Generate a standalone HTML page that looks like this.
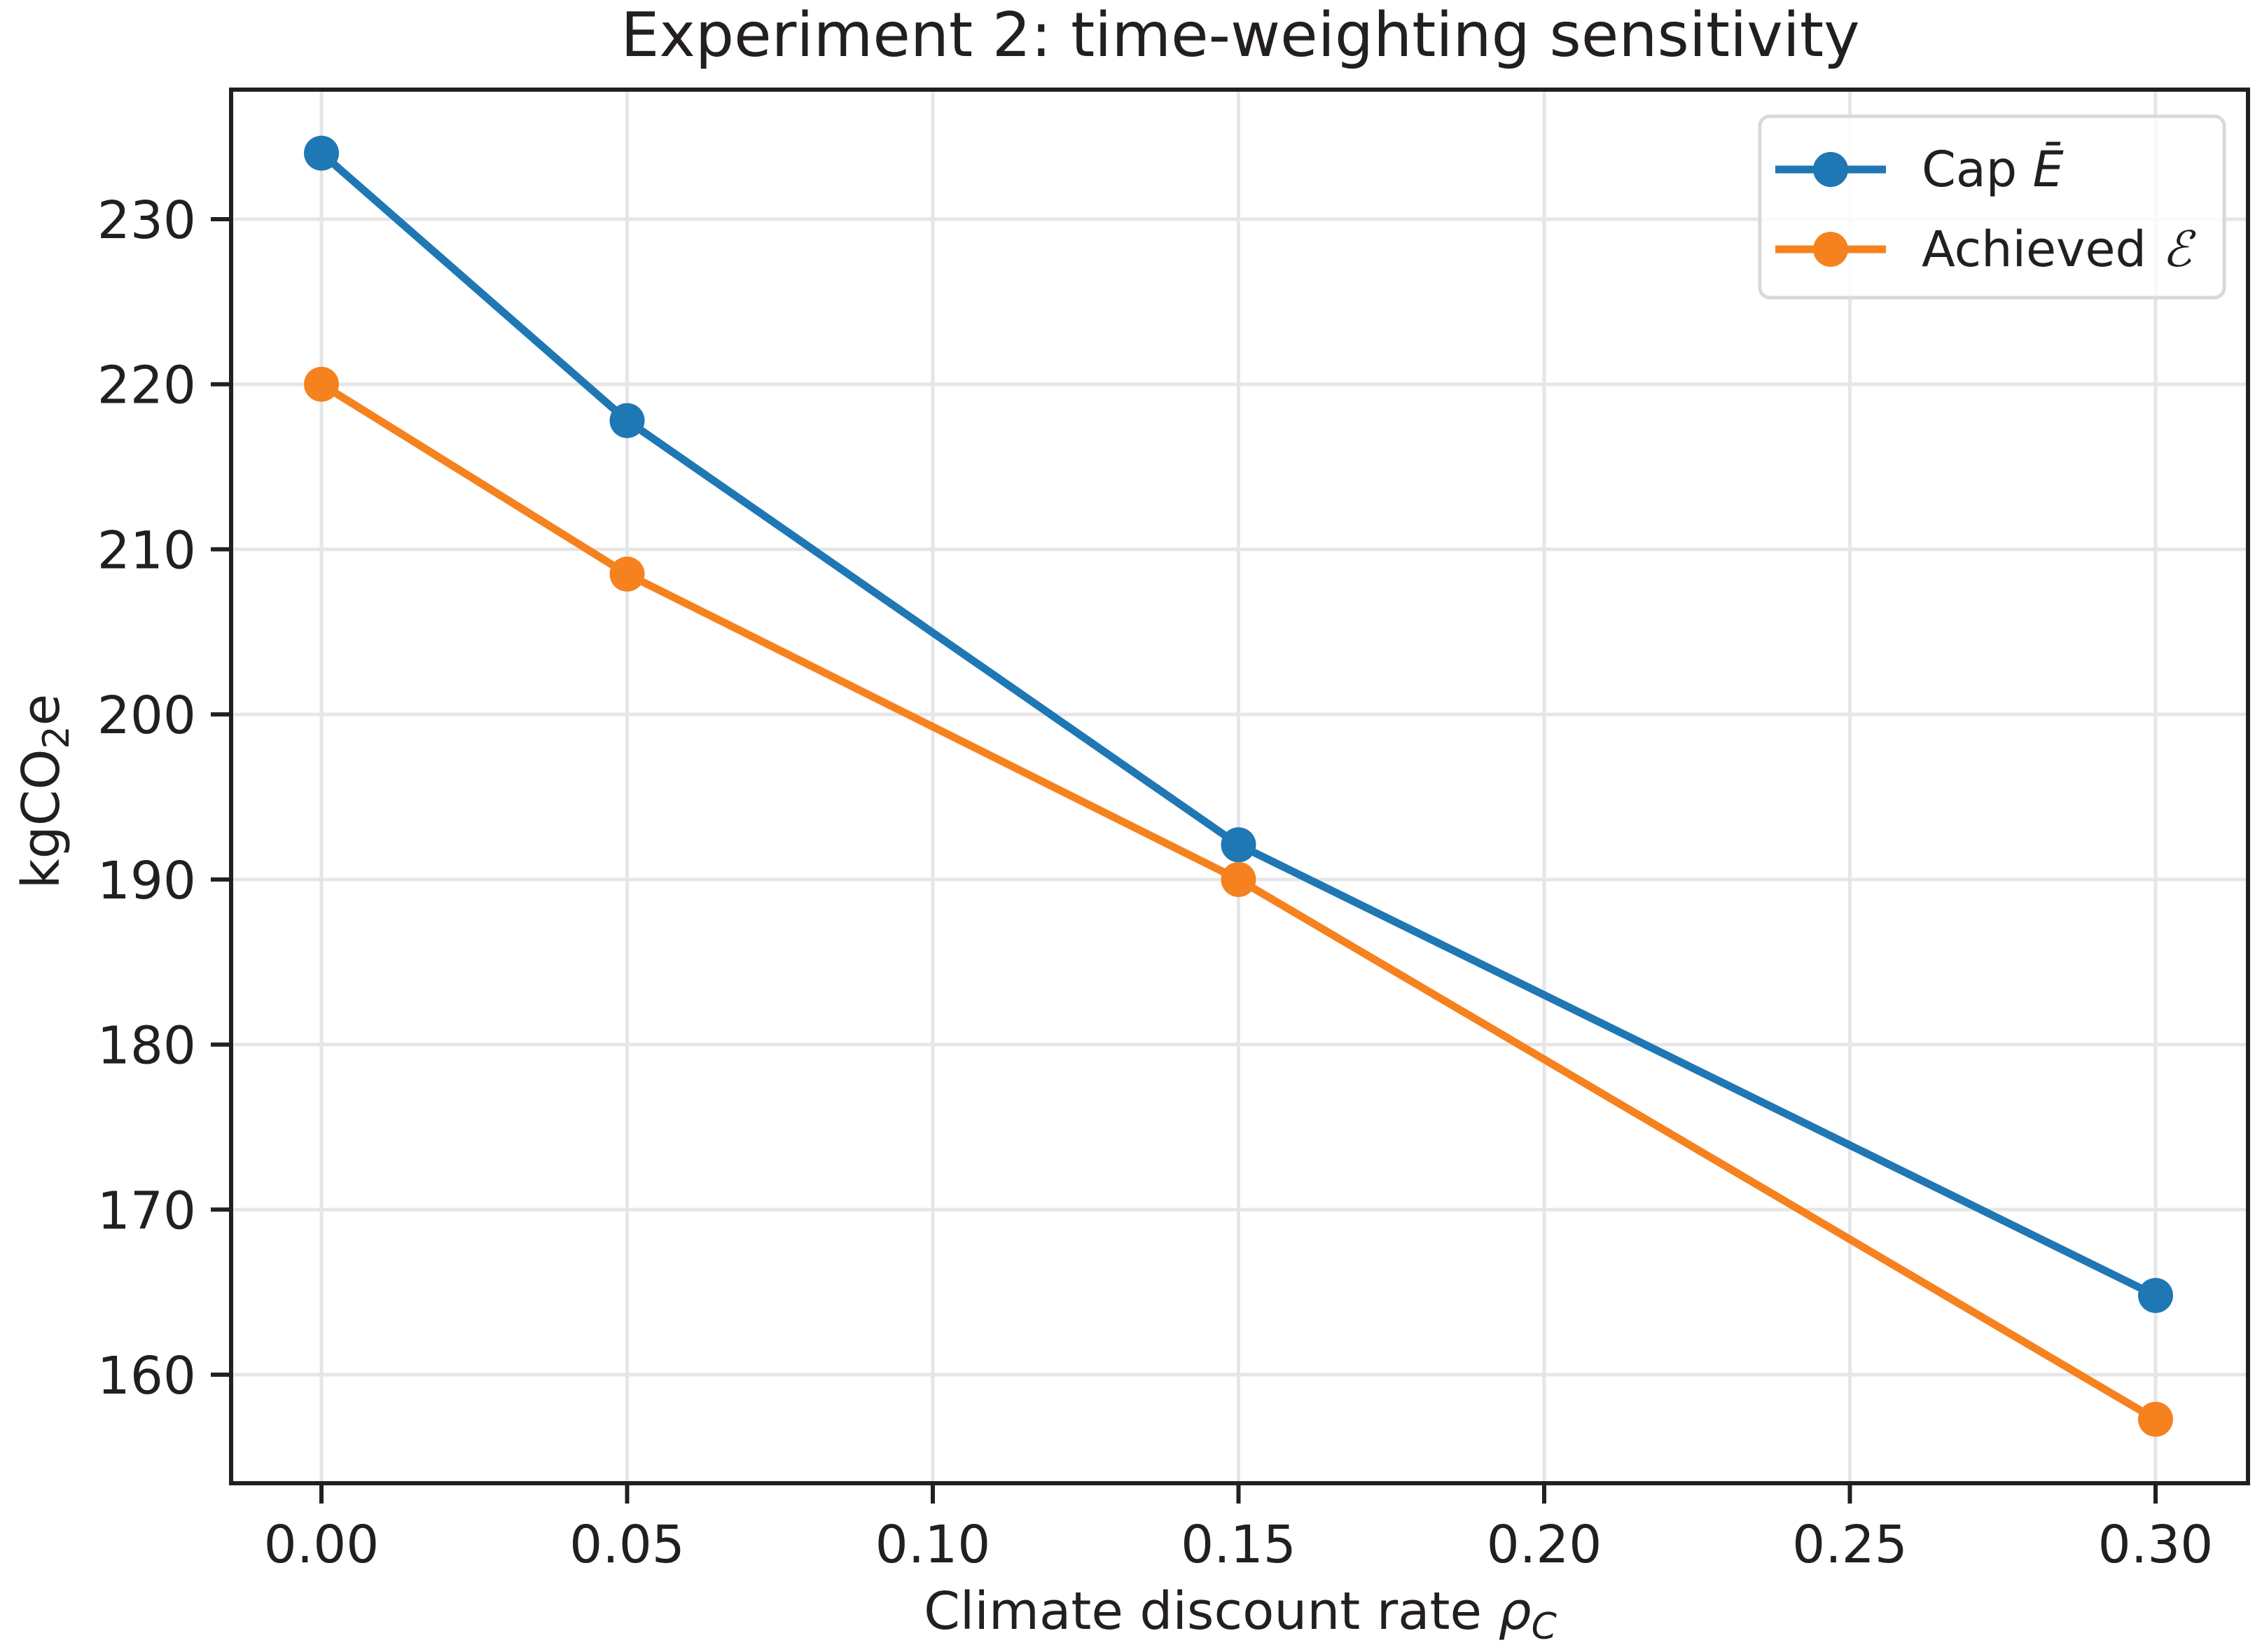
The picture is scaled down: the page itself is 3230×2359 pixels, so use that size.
<!DOCTYPE html>
<html><head><meta charset="utf-8">
<style>
html,body{margin:0;padding:0;background:#fff;}
svg{display:block;font-family:"DejaVu Sans","Liberation Sans",sans-serif;}
</style></head>
<body>
<svg id="chart" width="3230" height="2359" viewBox="0 0 3230 2359">
<rect width="3230" height="2359" fill="#fff"/>
<g id="grid"></g>
<g id="series"></g>
<g id="axes"></g>
<text x="1771" y="80" font-size="87" text-anchor="middle" fill="#231f20">Experiment 2: time-weighting sensitivity</text>
<text x="1771" y="2326" font-size="74" text-anchor="middle" fill="#231f20">Climate discount rate <tspan font-style="italic">ρ</tspan><tspan font-style="italic" font-size="52" dy="14">C</tspan></text>
<text transform="translate(84,1130) rotate(-90)" font-size="74" text-anchor="middle" fill="#231f20">kgCO<tspan font-size="52" dy="14">2</tspan><tspan dy="-14">e</tspan></text>
<g>
<rect x="2513" y="166" width="663" height="259" rx="14" fill="#fff" fill-opacity="0.8" stroke="#d9d9da" stroke-width="5"/>
<line x1="2535" y1="242" x2="2693" y2="242" stroke="#1f77b4" stroke-width="11"/>
<circle cx="2614" cy="242" r="25" fill="#1f77b4"/>
<text x="2744" y="266" font-size="70" fill="#231f20">Cap <tspan font-style="italic">Ē</tspan></text>
<line x1="2535" y1="356" x2="2693" y2="356" stroke="#f5821f" stroke-width="11"/>
<circle cx="2614" cy="356" r="25" fill="#f5821f"/>
<text x="2744" y="380" font-size="70" fill="#231f20">Achieved <tspan font-style="italic" font-family="Liberation Serif, serif">ℰ</tspan></text>
</g>
</svg>
<script>
const xValues = [0.00, 0.05, 0.15, 0.30];
const capValues = [234.0, 217.8, 192.1, 164.8];
const achievedValues = [220.0, 208.5, 190.0, 157.3];
const xTicks = [0.00, 0.05, 0.10, 0.15, 0.20, 0.25, 0.30];
const xTickLabels = ["0.00", "0.05", "0.10", "0.15", "0.20", "0.25", "0.30"];
const yTicks = [160, 170, 180, 190, 200, 210, 220, 230];
const yTickLabels = ["160", "170", "180", "190", "200", "210", "220", "230"];

const NS = "http://www.w3.org/2000/svg";
const L = 330, R = 3210, T = 128, B = 2118;
function xScale(v){ return 459 + (v - 0) * (3078 - 459) / 0.30; }
function yScale(v){ return 1963 - (v - 160) * (1963 - 313) / 70; }
function mk(tag, attrs, parent){
  const e = document.createElementNS(NS, tag);
  for (const k in attrs) e.setAttribute(k, attrs[k]);
  parent.appendChild(e);
  return e;
}
const grid = document.getElementById('grid');
const axes = document.getElementById('axes');
const series = document.getElementById('series');

xTicks.forEach((t, i) => {
  const x = xScale(t);
  const g = mk('line', {x1:x, x2:x, y1:T, y2:B, stroke:'#e6e6e7', 'stroke-width':5}, grid);
  
  
  const tk = mk('line', {x1:x, x2:x, y1:B, y2:B+29, stroke:'#231f20', 'stroke-width':6}, axes);
  
  
  const tx = mk('text', {x:x, y:B+113, 'font-size':74, 'text-anchor':'middle', fill:'#231f20'}, axes);
  tx.textContent = xTickLabels[i];
  
  
});
yTicks.forEach((t, i) => {
  const y = yScale(t);
  const g = mk('line', {x1:L, x2:R, y1:y, y2:y, stroke:'#e6e6e7', 'stroke-width':5}, grid);
  
  
  const tk = mk('line', {x1:L-29, x2:L, y1:y, y2:y, stroke:'#231f20', 'stroke-width':6}, axes);
  
  
  const tx = mk('text', {x:L-50, y:y+27, 'font-size':74, 'text-anchor':'end', fill:'#231f20'}, axes);
  tx.textContent = yTickLabels[i];
  
  
});
const frame = mk('rect', {x:L, y:T, width:R-L, height:B-T, fill:'none', stroke:'#231f20', 'stroke-width':6}, axes);



function drawSeries(vals, color, name){
  const pts = xValues.map((x, i) => xScale(x) + ',' + yScale(vals[i])).join(' ');
  const pl = mk('polyline', {points:pts, fill:'none', stroke:color, 'stroke-width':11, 'stroke-linejoin':'round'}, series);
  
  
  xValues.forEach((x, i) => {
    const c = mk('circle', {cx:xScale(x), cy:yScale(vals[i]), r:25, fill:color}, series);
    
    
  });
}
drawSeries(capValues, '#1f77b4', 'cap');
drawSeries(achievedValues, '#f5821f', 'achieved');
</script>
</body></html>
